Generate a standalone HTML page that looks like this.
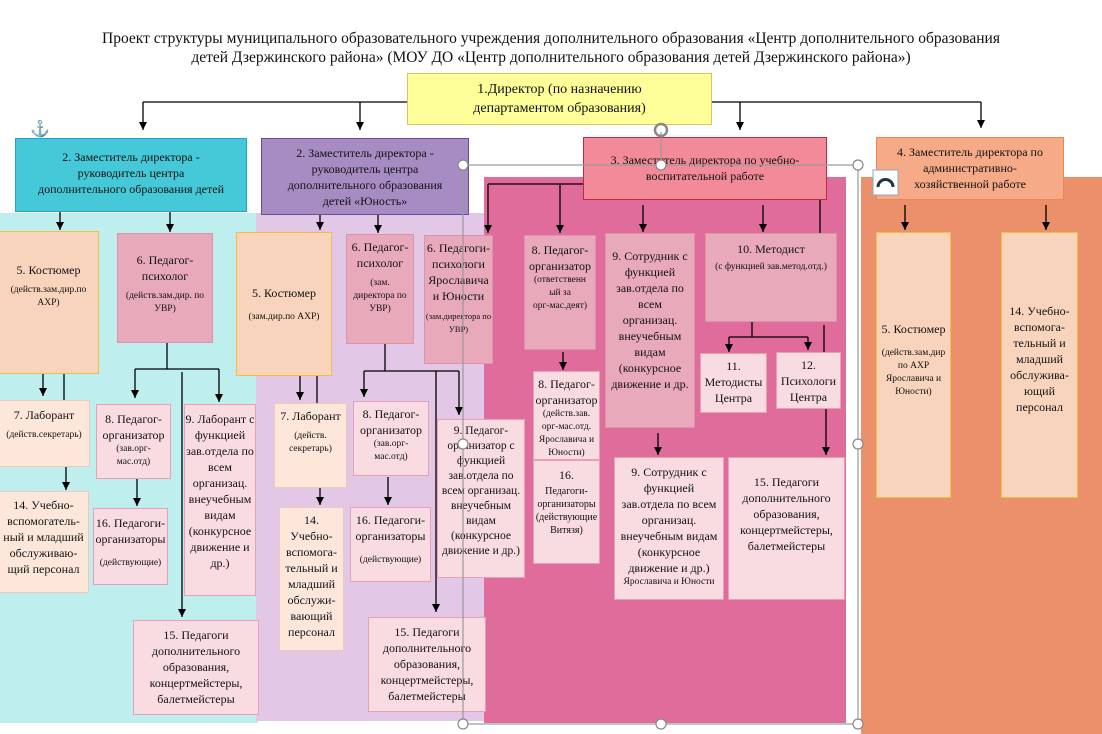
<!DOCTYPE html>
<html><head><meta charset="utf-8">
<style>
body{margin:0;width:1102px;height:734px;background:#fff;position:relative;overflow:hidden;font-family:"Liberation Serif",serif;}
.t{position:absolute;left:0;width:1102px;text-align:center;font-size:15.5px;line-height:19px;color:#111}
.bg{position:absolute}
.b{position:absolute;box-sizing:border-box;display:flex;flex-direction:column;align-items:center;justify-content:flex-start;text-align:center;font-size:12px;line-height:16px;color:#111;padding-top:6px}
.s{font-size:9.5px;line-height:13px;margin-top:6px}
.p{background:#f8dce2;border:1px solid #e8a0b4}
.d{background:#e8aabb;border:1px solid #e090a8}
.k{background:#f8d4bc;border:1px solid #f0c040}
.l{background:#fde6da;border:1px solid #f0c8b8}
svg{position:absolute;left:0;top:0}
</style></head><body>
<div class="t" style="top:29px">Проект структуры муниципального образовательного учреждения дополнительного образования «Центр дополнительного образования<br>детей Дзержинского района» (МОУ ДО «Центр дополнительного образования детей Дзержинского района»)</div>

<div class="bg" style="left:0;top:213px;width:258px;height:510px;background:#bfeeee"></div>
<div class="bg" style="left:256px;top:213px;width:230px;height:508px;background:#e2c8e6"></div>
<div class="bg" style="left:484px;top:177px;width:362px;height:546px;background:#e06c9c"></div>
<div class="bg" style="left:861px;top:177px;width:241px;height:557px;background:#ec906c"></div>

<div class="b" style="left:407px;top:73px;width:305px;height:52px;background:#ffff99;border:1px solid #e0c060;font-size:14px;line-height:19px;padding-top:6px">1.Директор (по назначению<br>департаментом образования)</div>
<div class="b" style="left:15px;top:138px;width:232px;height:74px;background:#45c8d8;border:1px solid #2a9ec8;padding-top:10px">2. Заместитель директора -<br>руководитель центра<br>дополнительного образования детей</div>
<div class="b" style="left:261px;top:138px;width:208px;height:77px;background:#a68cc2;border:1px solid #6a4a9a;padding-top:6px">2. Заместитель директора -<br>руководитель центра<br>дополнительного образования<br>детей «Юность»</div>
<div class="b" style="left:583px;top:137px;width:244px;height:63px;background:#f28a9a;border:1px solid #c02a40;padding-top:14px">3. Заместитель директора по учебно-<br>воспитательной работе</div>
<div class="b" style="left:876px;top:137px;width:188px;height:63px;background:#f6aa88;border:1px solid #e88a50;padding-top:6px">4. Заместитель директора по<br>административно-<br>хозяйственной работе</div>

<!-- cyan column -->
<div class="b k" style="left:-2px;top:231px;width:101px;height:143px;padding-top:30px">5. Костюмер<div class="s">(действ.зам.дир.по<br>АХР)</div></div>
<div class="b d" style="left:117px;top:233px;width:96px;height:110px;padding-top:18px">6. Педагог-<br>психолог<div class="s">(действ.зам.дир. по<br>УВР)</div></div>
<div class="b l" style="left:-2px;top:400px;width:92px;height:67px;padding-top:6px">7. Лаборант<div class="s">(действ.секретарь)</div></div>
<div class="b p" style="left:96px;top:404px;width:75px;height:75px;padding-top:6px">8. Педагог-<br>организатор<div class="s" style="margin-top:0">(зав.орг-<br>мас.отд)</div></div>
<div class="b p" style="left:184px;top:404px;width:72px;height:192px;padding-top:6px">9. Лаборант с<br>функцией<br>зав.отдела по<br>всем<br>организац.<br>внеучебным<br>видам<br>(конкурсное<br>движение и<br>др.)</div>
<div class="b l" style="left:-2px;top:491px;width:91px;height:102px;padding-top:5px">14. Учебно-<br>вспомогатель-<br>ный и младший<br>обслуживаю-<br>щий персонал</div>
<div class="b p" style="left:93px;top:508px;width:75px;height:77px;padding-top:6px">16. Педагоги-<br>организаторы<div class="s" style="margin-top:10px">(действующие)</div></div>
<div class="b p" style="left:133px;top:620px;width:126px;height:95px;padding-top:6px">15. Педагоги<br>дополнительного<br>образования,<br>концертмейстеры,<br>балетмейстеры</div>

<!-- lavender column -->
<div class="b k" style="left:236px;top:232px;width:96px;height:144px;padding-top:52px">5. Костюмер<div class="s" style="margin-top:10px">(зам.дир.по АХР)</div></div>
<div class="b d" style="left:346px;top:234px;width:68px;height:110px;padding-top:4px">6. Педагог-<br>психолог<div class="s">(зам.<br>директора по<br>УВР)</div></div>
<div class="b d" style="left:424px;top:235px;width:69px;height:129px;padding-top:4px">6. Педагоги-<br>психологи<br>Ярославича<br>и Юности<div class="s" style="font-size:8.5px">(зам.директора по<br>УВР)</div></div>
<div class="b l" style="left:274px;top:403px;width:73px;height:85px;padding-top:4px">7. Лаборант<div class="s">(действ.<br>секретарь)</div></div>
<div class="b p" style="left:353px;top:401px;width:76px;height:75px;padding-top:4px">8. Педагог-<br>организатор<div class="s" style="margin-top:0">(зав.орг-<br>мас.отд)</div></div>
<div class="b p" style="left:437px;top:419px;width:88px;height:159px;padding-top:4px;font-size:11.5px;line-height:15px">9. Педагог-<br>организатор с<br>функцией<br>зав.отдела по<br>всем организац.<br>внеучебным<br>видам<br>(конкурсное<br>движение и др.)</div>
<div class="b l" style="left:279px;top:507px;width:65px;height:144px;padding-top:4px">14.<br>Учебно-<br>вспомога-<br>тельный и<br>младший<br>обслужи-<br>вающий<br>персонал</div>
<div class="b p" style="left:350px;top:507px;width:81px;height:75px;padding-top:4px">16. Педагоги-<br>организаторы<div class="s" style="margin-top:10px">(действующие)</div></div>
<div class="b p" style="left:368px;top:617px;width:118px;height:95px;padding-top:6px">15. Педагоги<br>дополнительного<br>образования,<br>концертмейстеры,<br>балетмейстеры</div>

<!-- pink column -->
<div class="b d" style="left:524px;top:235px;width:72px;height:115px;padding-top:6px">8. Педагог-<br>организатор<div class="s" style="margin-top:0">(ответственн<br>ый за<br>орг-мас.деят)</div></div>
<div class="b d" style="left:605px;top:233px;width:90px;height:195px;padding-top:14px">9. Сотрудник с<br>функцией<br>зав.отдела по<br>всем<br>организац.<br>внеучебным<br>видам<br>(конкурсное<br>движение и др.</div>
<div class="b d" style="left:705px;top:233px;width:132px;height:89px;padding-top:7px">10. Методист<div class="s" style="margin-top:4px">(с функцией зав.метод.отд.)</div></div>
<div class="b p" style="left:700px;top:353px;width:67px;height:60px;padding-top:4px">11.<br>Методисты<br>Центра</div>
<div class="b p" style="left:776px;top:352px;width:65px;height:57px;padding-top:4px">12.<br>Психологи<br>Центра</div>
<div class="b p" style="left:533px;top:371px;width:67px;height:89px;padding-top:4px">8. Педагог-<br>организатор<div class="s" style="margin-top:0">(действ.зав.<br>орг-мас.отд.<br>Ярославича и<br>Юности)</div></div>
<div class="b p" style="left:533px;top:460px;width:67px;height:104px;padding-top:6px">16.<div class="s" style="margin-top:2px;font-size:10px">Педагоги-<br>организаторы<br>(действующие<br>Витязя)</div></div>
<div class="b p" style="left:614px;top:457px;width:110px;height:143px;padding-top:6px">9. Сотрудник с<br>функцией<br>зав.отдела по всем<br>организац.<br>внеучебным видам<br>(конкурсное<br>движение и др.)<div class="s" style="margin-top:0">Ярославича и Юности</div></div>
<div class="b p" style="left:728px;top:457px;width:117px;height:143px;padding-top:16px">15. Педагоги<br>дополнительного<br>образования,<br>концертмейстеры,<br>балетмейстеры</div>

<!-- orange column -->
<div class="b k" style="left:876px;top:232px;width:75px;height:266px;padding-top:88px">5. Костюмер<div class="s" style="margin-top:10px">(действ.зам.дир<br>по АХР<br>Ярославича и<br>Юности)</div></div>
<div class="b k" style="left:1001px;top:232px;width:77px;height:266px;padding-top:70px">14. Учебно-<br>вспомога-<br>тельный и<br>младший<br>обслужива-<br>ющий<br>персонал</div>

<svg width="1102" height="734" viewBox="0 0 1102 734">
<defs><marker id="a" markerWidth="9" markerHeight="9" refX="8" refY="4" orient="auto" markerUnits="userSpaceOnUse"><path d="M0,0 L8,4 L0,8 z" fill="#000"/></marker></defs>
<g stroke="#000" stroke-width="1.3" fill="none">
<path d="M143,102 H407 M712,102 H981"/>
<path d="M143,102 V130" marker-end="url(#a)"/>
<path d="M360,102 V130" marker-end="url(#a)"/>
<path d="M740,102 V130" marker-end="url(#a)"/>
<path d="M981,102 V128" marker-end="url(#a)"/>
<path d="M60,212 V230" marker-end="url(#a)"/>
<path d="M170,212 V232" marker-end="url(#a)"/>
<path d="M320,215 V230" marker-end="url(#a)"/>
<path d="M378,215 V233" marker-end="url(#a)"/>
<path d="M583,184 H488"/>
<path d="M488,184 V233" marker-end="url(#a)"/>
<path d="M560,184 V233" marker-end="url(#a)"/>
<path d="M643,205 V232" marker-end="url(#a)"/>
<path d="M763,205 V232" marker-end="url(#a)"/>
<path d="M820,200 V233"/>
<path d="M905,205 V230" marker-end="url(#a)"/>
<path d="M1046,205 V230" marker-end="url(#a)"/>
<path d="M43,374 V396" marker-end="url(#a)"/>
<path d="M64,374 V400"/>
<path d="M66,467 V490" marker-end="url(#a)"/>
<path d="M167,343 V369 M135,369 H219"/>
<path d="M135,369 V398" marker-end="url(#a)"/>
<path d="M219,369 V402" marker-end="url(#a)"/>
<path d="M182,372 V617" marker-end="url(#a)"/>
<path d="M137,479 V506" marker-end="url(#a)"/>
<path d="M300,376 V400" marker-end="url(#a)"/>
<path d="M317,376 V403"/>
<path d="M320,488 V505" marker-end="url(#a)"/>
<path d="M385,344 V371 M364,371 H459"/>
<path d="M364,371 V397" marker-end="url(#a)"/>
<path d="M459,371 V415" marker-end="url(#a)"/>
<path d="M436,371 V612" marker-end="url(#a)"/>
<path d="M388,477 V505" marker-end="url(#a)"/>
<path d="M563,352 V370" marker-end="url(#a)"/>
<path d="M658,433 V455" marker-end="url(#a)"/>
<path d="M752,322 V337 M729,337 H808"/>
<path d="M729,337 V352" marker-end="url(#a)"/>
<path d="M808,337 V350" marker-end="url(#a)"/>
<path d="M824,325 V352"/>
<path d="M826,409 V455" marker-end="url(#a)"/>
</g>
<g stroke="#999" stroke-width="1.2" fill="none">
<rect x="463" y="165" width="395" height="559"/>
<path d="M661,132 V165"/>
</g>
<g fill="#fff" stroke="#888" stroke-width="1.2">
<circle cx="463" cy="165" r="5"/><circle cx="661" cy="165" r="5"/><circle cx="858" cy="165" r="5"/>
<circle cx="463" cy="444" r="5"/><circle cx="858" cy="444" r="5"/>
<circle cx="463" cy="724" r="5"/><circle cx="661" cy="724" r="5"/><circle cx="858" cy="724" r="5"/>
<circle cx="661" cy="130" r="6" fill="none" stroke-width="2.5"/>
</g>
<rect x="873" y="170" width="25" height="25" fill="#fff" stroke="#8ab"/>
<path d="M878,187 A7,7 0 0 1 893,187" stroke="#234" stroke-width="3" fill="none"/>
<text x="40" y="134" font-size="16" fill="#3a8fd8" text-anchor="middle">⚓</text>
</svg>
</body></html>
